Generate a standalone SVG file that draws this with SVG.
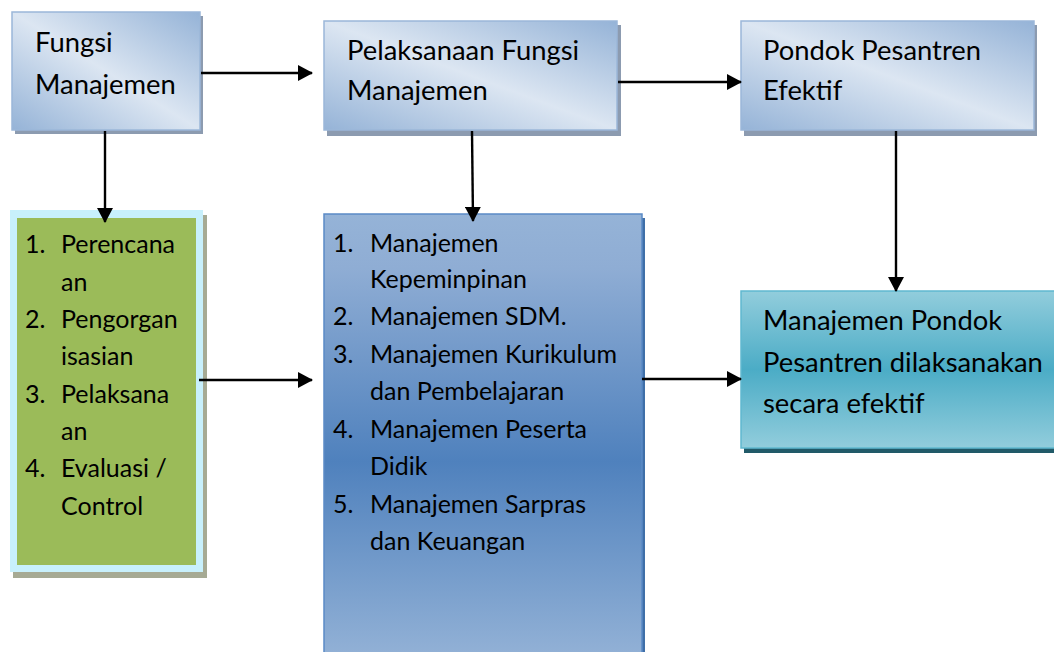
<svg xmlns="http://www.w3.org/2000/svg" width="1054" height="652" viewBox="0 0 1054 652">
<style>
.t{font-family:Lato,"Noto Sans",sans-serif;fill:#000}
.big{font-size:27.4px}
.sm{font-size:25px}
.con{stroke:#000;stroke-width:2.4;fill:none}
</style>
<defs>
<linearGradient id="gTop" x1="1" y1="0" x2="0" y2="1">
<stop offset="0" stop-color="#95b3d7"/>
<stop offset="0.5" stop-color="#dce6f2"/>
<stop offset="1" stop-color="#95b3d7"/>
</linearGradient>
<linearGradient id="gBlue" x1="0" y1="0" x2="0" y2="1">
<stop offset="0" stop-color="#95b3d7"/>
<stop offset="0.12" stop-color="#8fadd4"/>
<stop offset="0.55" stop-color="#4f81bd"/>
<stop offset="1" stop-color="#95b3d7"/>
</linearGradient>
<linearGradient id="gTeal" x1="0" y1="0" x2="0" y2="1">
<stop offset="0" stop-color="#92cddc"/>
<stop offset="0.5" stop-color="#4bacc6"/>
<stop offset="1" stop-color="#92cddc"/>
</linearGradient>
<marker id="ah" markerWidth="15" markerHeight="16" refX="14" refY="8" orient="auto" markerUnits="userSpaceOnUse">
<path d="M0,0 L15,8 L0,16 Z" fill="#000"/>
</marker>
</defs>

<g id="node-fungsi">
<rect x="15" y="16" width="188" height="118" fill="#8c9bb0"/>
<rect x="12" y="12" width="188" height="118" fill="url(#gTop)" stroke="#9bb7d9" stroke-width="1.5"/>
<text class="t big" x="35" y="52">Fungsi</text>
<text class="t big" x="35" y="94">Manajemen</text>
</g>

<g id="node-pelaksanaan">
<rect x="327" y="25" width="294" height="111" fill="#8c9bb0"/>
<rect x="324" y="21" width="293" height="109" fill="url(#gTop)" stroke="#9bb7d9" stroke-width="1.5"/>
<text class="t big" x="347" y="60">Pelaksanaan Fungsi</text>
<text class="t big" x="347" y="100">Manajemen</text>
</g>

<g id="node-pondok">
<rect x="744" y="25" width="293" height="111" fill="#8c9bb0"/>
<rect x="741" y="21" width="293" height="109" fill="url(#gTop)" stroke="#9bb7d9" stroke-width="1.5"/>
<text class="t big" x="763" y="60">Pondok Pesantren</text>
<text class="t big" x="763" y="100">Efektif</text>
</g>

<g id="node-fungsi-list">
<rect x="13" y="215" width="194" height="363" fill="#a6aa94"/>
<rect x="10" y="210" width="193" height="362" fill="#c8f0fc"/>
<rect x="17" y="218" width="179" height="347" fill="#9bbb59"/>
<g class="t sm">
<text x="25" y="253">1.</text><text x="61" y="253">Perencana</text>
<text x="61" y="291">an</text>
<text x="25" y="328">2.</text><text x="61" y="328">Pengorgan</text>
<text x="61" y="365">isasian</text>
<text x="25" y="403">3.</text><text x="61" y="403">Pelaksana</text>
<text x="61" y="440">an</text>
<text x="25" y="477">4.</text><text x="61" y="477">Evaluasi /</text>
<text x="61" y="515">Control</text>
</g>
</g>

<g id="node-manajemen-list">
<rect x="327" y="218" width="318" height="450" fill="#3f6fa8"/>
<rect x="324" y="214" width="318" height="450" fill="url(#gBlue)" stroke="#5b8bc6" stroke-width="1.5"/>
<g class="t sm">
<text x="333" y="252">1.</text><text x="370" y="252">Manajemen</text>
<text x="370" y="288">Kepeminpinan</text>
<text x="333" y="325">2.</text><text x="370" y="325">Manajemen SDM.</text>
<text x="333" y="363">3.</text><text x="370" y="363">Manajemen Kurikulum</text>
<text x="370" y="400">dan Pembelajaran</text>
<text x="333" y="438">4.</text><text x="370" y="438">Manajemen Peserta</text>
<text x="370" y="475">Didik</text>
<text x="333" y="513">5.</text><text x="370" y="513">Manajemen Sarpras</text>
<text x="370" y="550">dan Keuangan</text>
</g>
</g>

<g id="node-hasil">
<rect x="744" y="296" width="320" height="157" fill="#215a68"/>
<rect x="741" y="291" width="320" height="157" fill="url(#gTeal)" stroke="#5fb8cf" stroke-width="1.5"/>
<text class="t big" x="763" y="330">Manajemen Pondok</text>
<text class="t big" x="763" y="372">Pesantren dilaksanakan</text>
<text class="t big" x="763" y="413">secara efektif</text>
</g>

<g id="connectors">
<line class="con" x1="201" y1="73" x2="312" y2="73" marker-end="url(#ah)"/>
<line class="con" x1="618" y1="82" x2="741" y2="82" marker-end="url(#ah)"/>
<line class="con" x1="105" y1="131" x2="105" y2="222" marker-end="url(#ah)"/>
<line class="con" x1="472" y1="131" x2="473" y2="221" marker-end="url(#ah)"/>
<line class="con" x1="896" y1="131" x2="896" y2="291" marker-end="url(#ah)"/>
<line class="con" x1="199" y1="380" x2="312" y2="380" marker-end="url(#ah)"/>
<line class="con" x1="642" y1="379" x2="741" y2="379" marker-end="url(#ah)"/>
</g>
</svg>
